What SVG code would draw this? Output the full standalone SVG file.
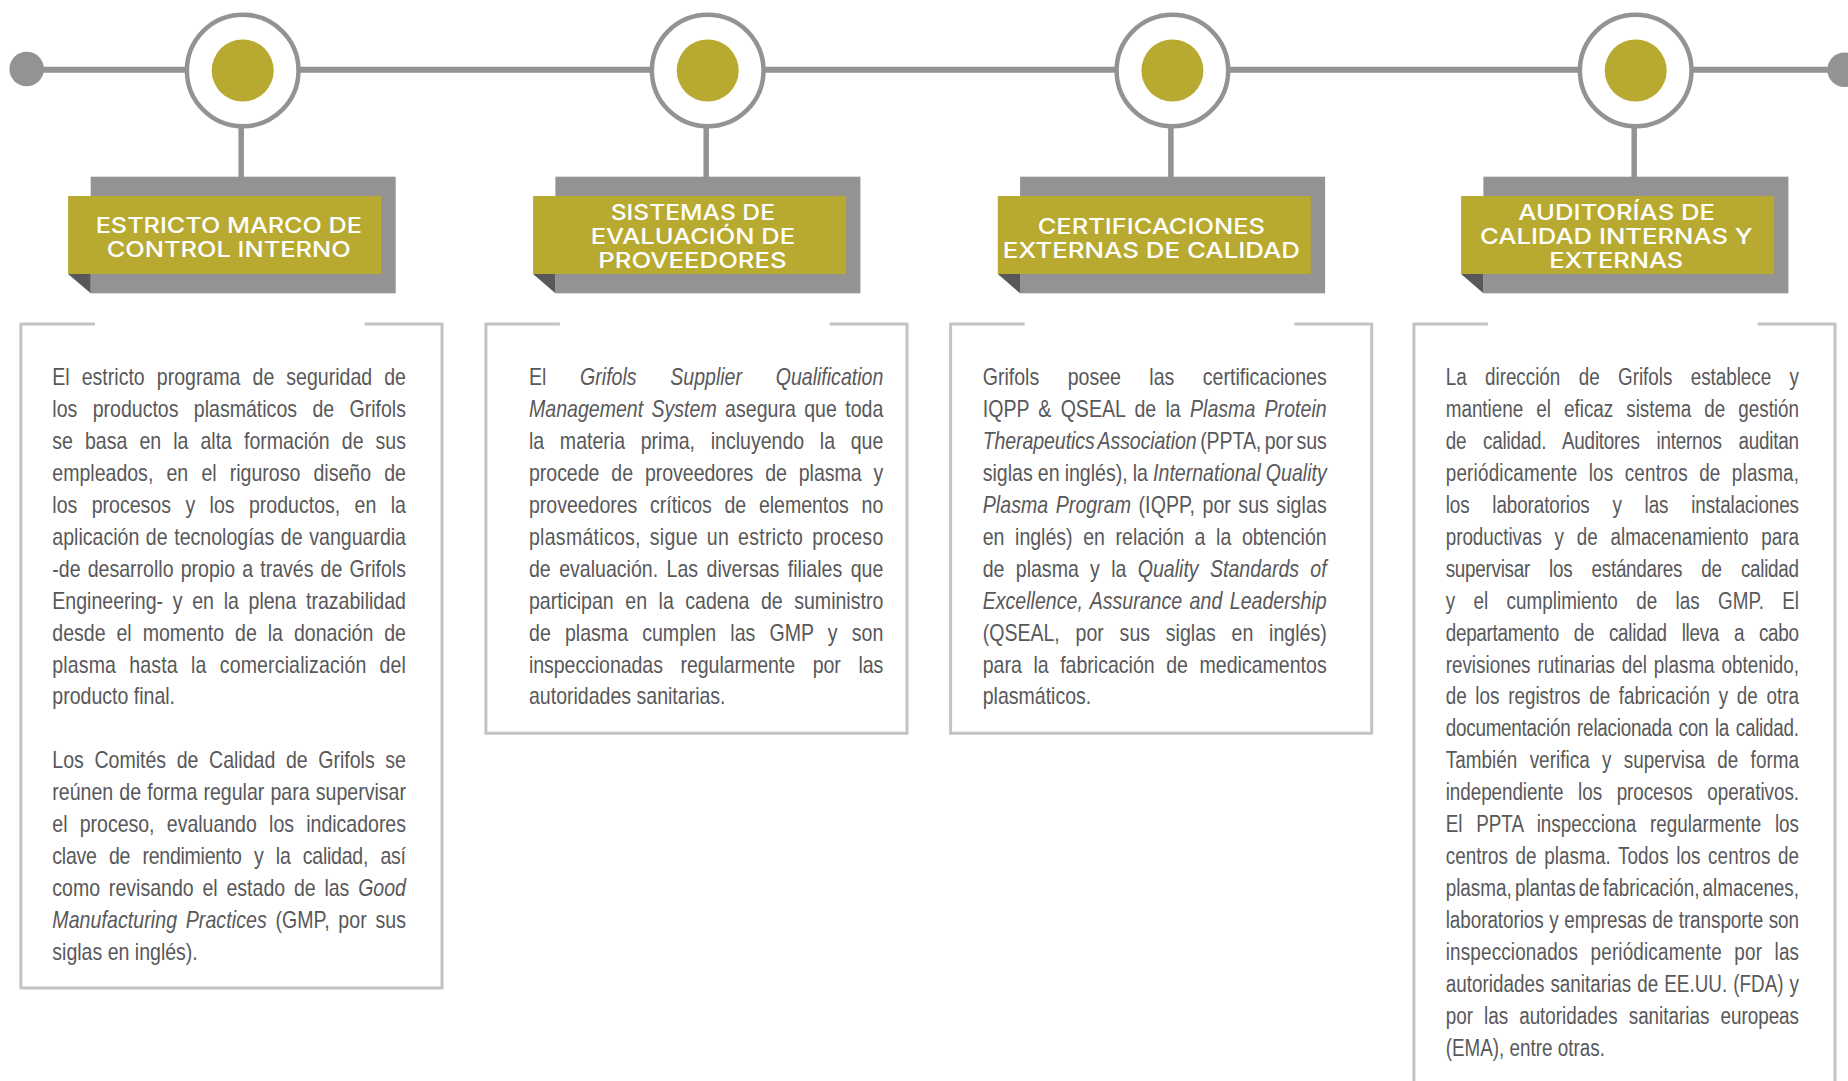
<svg xmlns="http://www.w3.org/2000/svg" width="1848" height="1081" viewBox="0 0 1848 1081">
<style>
.tl{stroke:#939393;stroke-width:6;fill:none}
.stem{stroke:#939393;stroke-width:5.5}
.ring{fill:#fff;stroke:#939393;stroke-width:4.5}
.dot{fill:#b8aa31}
.end{fill:#939393}
.back{fill:#939393}
.front{fill:#b8aa31}
.fold{fill:#58585a}
.frame{fill:none;stroke:#c3c3c3;stroke-width:3}
.h{font-family:Inter,"Open Sans",sans-serif;font-weight:500;font-size:22px;fill:#fff}
.b{font-family:"Liberation Sans",Arial,sans-serif;font-size:23px;fill:#58585a}
.i{font-style:italic}
</style>
<rect width="1848" height="1081" fill="#fff"/>
<g id="connectors">
<line class="tl" x1="26.7" y1="69.8" x2="1844.6" y2="69.8"/>
<line class="stem" x1="241.2" y1="126" x2="241.2" y2="178"/>
<line class="stem" x1="706.2" y1="126" x2="706.2" y2="178"/>
<line class="stem" x1="1170.9" y1="126" x2="1170.9" y2="178"/>
<line class="stem" x1="1634.2" y1="126" x2="1634.2" y2="178"/>
</g>
<g id="start-dot"><circle class="end" cx="26.7" cy="69" r="17.3"/></g>
<g id="end-dot"><circle class="end" cx="1844.6" cy="69.8" r="17.3"/></g>

<g id="node-1">
<circle class="ring" cx="242.7" cy="70.5" r="55.8"/>
<circle class="dot" cx="242.7" cy="70.5" r="31"/>
<rect class="back" x="90.7" y="176.7" width="305" height="116.6"/>
<rect class="front" x="68.1" y="196" width="313" height="78"/>
<polygon class="fold" points="68.1,274 90.7,274 90.7,293.3"/>
<text class="h" x="95.7" y="233.3" textLength="266.3" lengthAdjust="spacingAndGlyphs">ESTRICTO MARCO DE</text>
<text class="h" x="106.7" y="257.3" textLength="244" lengthAdjust="spacingAndGlyphs">CONTROL INTERNO</text>
<path class="frame" d="M94.9,324 H20.9 V988 H442 V324 H364.7"/>
<g class="b" transform="matrix(0.85 0 0 1 52.3 0)">
<text x="0" y="385" textLength="416.1" word-spacing="7.8">El estricto programa de seguridad de</text>
<text x="0" y="417" textLength="416.1" word-spacing="11.7">los productos plasmáticos de Grifols</text>
<text x="0" y="448.9" textLength="416.1" word-spacing="7.8">se basa en la alta formación de sus</text>
<text x="0" y="480.9" textLength="416.1" word-spacing="9.1">empleados, en el riguroso diseño de</text>
<text x="0" y="512.8" textLength="416.1" word-spacing="10.5">los procesos y los productos, en la</text>
<text x="0" y="544.8" textLength="416.1" word-spacing="1.4">aplicación de tecnologías de vanguardia</text>
<text x="0" y="576.7" textLength="416.1" word-spacing="2">-de desarrollo propio a través de Grifols</text>
<text x="0" y="608.7" textLength="416.1" word-spacing="5">Engineering- y en la plena trazabilidad</text>
<text x="0" y="640.6" textLength="416.1" word-spacing="6.5">desde el momento de la donación de</text>
<text x="0" y="672.6" textLength="416.1" word-spacing="9">plasma hasta la comercialización del</text>
<text x="0" y="704.5">producto final.</text>
<text x="0" y="768.4" textLength="416.1" word-spacing="6.1">Los Comités de Calidad de Grifols se</text>
<text x="0" y="800.4" textLength="416.1" word-spacing="0.9">reúnen de forma regular para supervisar</text>
<text x="0" y="832.3" textLength="416.1" word-spacing="8.1">el proceso, evaluando los indicadores</text>
<text x="0" y="864.3" textLength="416.1" word-spacing="8.4">clave de rendimiento y la calidad, así</text>
<text x="0" y="896.2" textLength="416.1" word-spacing="3.9">como revisando el estado de las <tspan class="i">Good</tspan></text>
<text x="0" y="928.2" textLength="416.1" word-spacing="3.7"><tspan class="i">Manufacturing Practices</tspan> (GMP, por sus</text>
<text x="0" y="960.1">siglas en inglés).</text>
</g>
</g>

<g id="node-2">
<circle class="ring" cx="707.7" cy="70.5" r="55.8"/>
<circle class="dot" cx="707.7" cy="70.5" r="31"/>
<rect class="back" x="555.4" y="176.7" width="305" height="116.6"/>
<rect class="front" x="533.1" y="196" width="313" height="78"/>
<polygon class="fold" points="533.1,274 555.4,274 555.4,293.3"/>
<text class="h" x="610.7" y="220" textLength="164.3" lengthAdjust="spacingAndGlyphs">SISTEMAS DE</text>
<text class="h" x="590.7" y="244.3" textLength="204.3" lengthAdjust="spacingAndGlyphs">EVALUACIÓN DE</text>
<text class="h" x="598.3" y="268.3" textLength="188.4" lengthAdjust="spacingAndGlyphs">PROVEEDORES</text>
<path class="frame" d="M559.9,324 H485.9 V733.3 H907 V324 H829.7"/>
<g class="b" transform="matrix(0.85 0 0 1 529 0)">
<text x="0" y="385" textLength="416.8" word-spacing="33.3">El <tspan class="i">Grifols Supplier Qualification</tspan></text>
<text x="0" y="417" textLength="416.8" word-spacing="3.5"><tspan class="i">Management System</tspan> asegura que toda</text>
<text x="0" y="448.9" textLength="416.8" word-spacing="12">la materia prima, incluyendo la que</text>
<text x="0" y="480.9" textLength="416.8" word-spacing="7.7">procede de proveedores de plasma y</text>
<text x="0" y="512.8" textLength="416.8" word-spacing="8.6">proveedores críticos de elementos no</text>
<text x="0" y="544.8" textLength="416.8" word-spacing="3.9">plasmáticos, sigue un estricto proceso</text>
<text x="0" y="576.7" textLength="416.8" word-spacing="3.6">de evaluación. Las diversas filiales que</text>
<text x="0" y="608.7" textLength="416.8" word-spacing="7.2">participan en la cadena de suministro</text>
<text x="0" y="640.6" textLength="416.8" word-spacing="10.2">de plasma cumplen las GMP y son</text>
<text x="0" y="672.6" textLength="416.8" word-spacing="14.5">inspeccionadas regularmente por las</text>
<text x="0" y="704.5">autoridades sanitarias.</text>
</g>
</g>

<g id="node-3">
<circle class="ring" cx="1172.4" cy="70.5" r="55.8"/>
<circle class="dot" cx="1172.4" cy="70.5" r="31"/>
<rect class="back" x="1020.1" y="176.7" width="305" height="116.6"/>
<rect class="front" x="997.8" y="196" width="313" height="78"/>
<polygon class="fold" points="997.8,274 1020.1,274 1020.1,293.3"/>
<text class="h" x="1037.7" y="234" textLength="227.3" lengthAdjust="spacingAndGlyphs">CERTIFICACIONES</text>
<text class="h" x="1002.7" y="258.3" textLength="297.3" lengthAdjust="spacingAndGlyphs">EXTERNAS DE CALIDAD</text>
<path class="frame" d="M1024.6,324 H950.6 V733.3 H1371.7 V324 H1294.4"/>
<g class="b" transform="matrix(0.85 0 0 1 982.7 0)">
<text x="0" y="385" textLength="404.7" word-spacing="27.1">Grifols posee las certificaciones</text>
<text x="0" y="417" textLength="404.7" word-spacing="4.4">IQPP &amp; QSEAL de la <tspan class="i">Plasma Protein</tspan></text>
<text x="0" y="448.9" textLength="404.7" word-spacing="-2"><tspan class="i">Therapeutics Association</tspan> (PPTA, por sus</text>
<text x="0" y="480.9" textLength="404.7" word-spacing="-0.4">siglas en inglés), la <tspan class="i">International Quality</tspan></text>
<text x="0" y="512.8" textLength="404.7" word-spacing="2.2"><tspan class="i">Plasma Program</tspan> (IQPP, por sus siglas</text>
<text x="0" y="544.8" textLength="404.7" word-spacing="6.1">en inglés) en relación a la obtención</text>
<text x="0" y="576.7" textLength="404.7" word-spacing="6.9">de plasma y la <tspan class="i">Quality Standards of</tspan></text>
<text x="0" y="608.7" textLength="404.7" word-spacing="2.4"><tspan class="i">Excellence, Assurance and Leadership</tspan></text>
<text x="0" y="640.6" textLength="404.7" word-spacing="12.2">(QSEAL, por sus siglas en inglés)</text>
<text x="0" y="672.6" textLength="404.7" word-spacing="7.2">para la fabricación de medicamentos</text>
<text x="0" y="704.5">plasmáticos.</text>
</g>
</g>

<g id="node-4">
<circle class="ring" cx="1635.7" cy="70.5" r="55.8"/>
<circle class="dot" cx="1635.7" cy="70.5" r="31"/>
<rect class="back" x="1483.4" y="176.7" width="305" height="116.6"/>
<rect class="front" x="1461.1" y="196" width="313" height="78"/>
<polygon class="fold" points="1461.1,274 1483.4,274 1483.4,293.3"/>
<text class="h" x="1518.3" y="220" textLength="196.7" lengthAdjust="spacingAndGlyphs">AUDITORÍAS DE</text>
<text class="h" x="1480" y="244.3" textLength="272.7" lengthAdjust="spacingAndGlyphs">CALIDAD INTERNAS Y</text>
<text class="h" x="1549.3" y="268.3" textLength="134" lengthAdjust="spacingAndGlyphs">EXTERNAS</text>
<path class="frame" d="M1487.9,324 H1413.9 V1095 H1835 V324 H1757.7"/>
<g class="b" transform="matrix(0.82 0 0 1 1445.7 0)">
<text x="0" y="385" textLength="430.9" word-spacing="16.1">La dirección de Grifols establece y</text>
<text x="0" y="417" textLength="430.9" word-spacing="9.5">mantiene el eficaz sistema de gestión</text>
<text x="0" y="448.9" textLength="430.9" word-spacing="14.4">de calidad. Auditores internos auditan</text>
<text x="0" y="480.9" textLength="430.9" word-spacing="7.1">periódicamente los centros de plasma,</text>
<text x="0" y="512.8" textLength="430.9" word-spacing="21.6">los laboratorios y las instalaciones</text>
<text x="0" y="544.8" textLength="430.9" word-spacing="9.3">productivas y de almacenamiento para</text>
<text x="0" y="576.7" textLength="430.9" word-spacing="17.3">supervisar los estándares de calidad</text>
<text x="0" y="608.7" textLength="430.9" word-spacing="16">y el cumplimiento de las GMP. El</text>
<text x="0" y="640.6" textLength="430.9" word-spacing="12">departamento de calidad lleva a cabo</text>
<text x="0" y="672.6" textLength="430.9" word-spacing="2">revisiones rutinarias del plasma obtenido,</text>
<text x="0" y="704.5" textLength="430.9" word-spacing="4.2">de los registros de fabricación y de otra</text>
<text x="0" y="736.5" textLength="430.9" word-spacing="2">documentación relacionada con la calidad.</text>
<text x="0" y="768.4" textLength="430.9" word-spacing="8.5">También verifica y supervisa de forma</text>
<text x="0" y="800.4" textLength="430.9" word-spacing="11.5">independiente los procesos operativos.</text>
<text x="0" y="832.3" textLength="430.9" word-spacing="10.3">El PPTA inspecciona regularmente los</text>
<text x="0" y="864.3" textLength="430.9" word-spacing="2.8">centros de plasma. Todos los centros de</text>
<text x="0" y="896.2" textLength="430.9" word-spacing="-2.5">plasma, plantas de fabricación, almacenes,</text>
<text x="0" y="928.2" textLength="430.9" word-spacing="0.5">laboratorios y empresas de transporte son</text>
<text x="0" y="960.1" textLength="430.9" word-spacing="8.6">inspeccionados periódicamente por las</text>
<text x="0" y="992.1" textLength="430.9" word-spacing="1">autoridades sanitarias de EE.UU. (FDA) y</text>
<text x="0" y="1024" textLength="430.9" word-spacing="7.1">por las autoridades sanitarias europeas</text>
<text x="0" y="1056">(EMA), entre otras.</text>
</g>
</g>
</svg>
